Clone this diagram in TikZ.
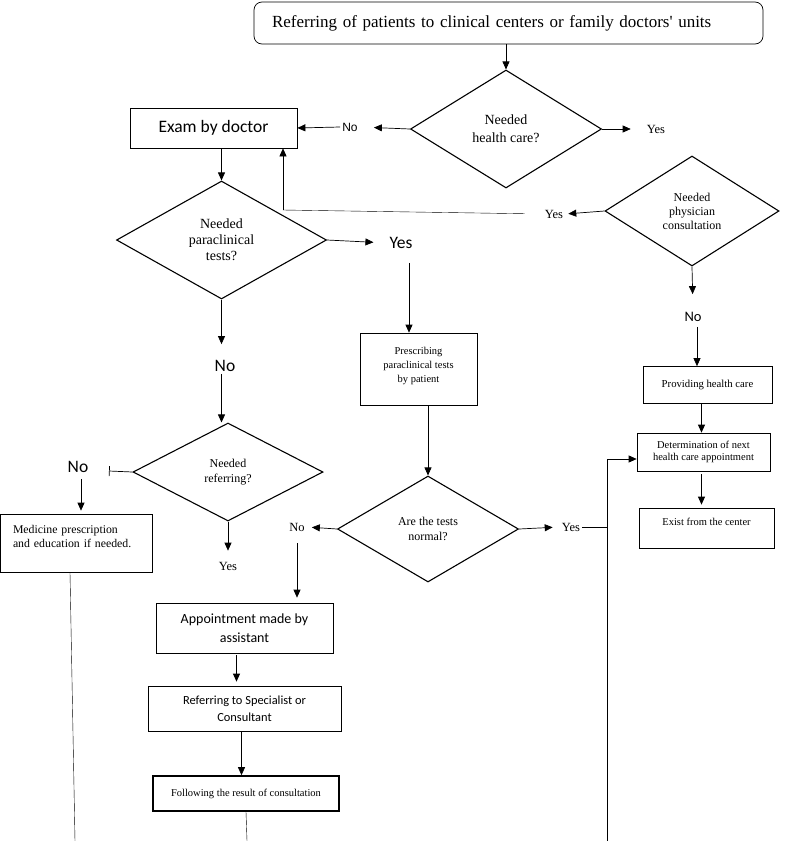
\documentclass[tikz,border=0pt]{standalone}
\usepackage{fontspec}
\setmainfont{Liberation Serif}
\newfontfamily\calfont{Carlito}
\newfontfamily\arialfont{Liberation Sans}
\usetikzlibrary{arrows.meta,shapes.geometric,calc}

\begin{document}
\begin{tikzpicture}[x=1pt, y=-1pt,
    box/.style={draw, line width=0.7pt, inner sep=2pt, align=center},
    dec/.style={draw, diamond, line width=1.1pt, inner sep=0pt, align=center},
    arr/.style={-{Triangle[length=8pt,width=7pt]}, line width=0.7pt},
    yn/.style={inner sep=2pt, font=\fontsize{12.5}{14}\selectfont},
    bigyn/.style={inner sep=2pt, font=\calfont\fontsize{17.5}{19}\selectfont}]

\useasboundingbox (0,0) rectangle (785,841);

% Start
\node[box, rounded corners=8pt, align=left, text width=473, inner xsep=18pt, minimum height=42,
      font=\fontsize{17}{19}\selectfont] (start) at (508.5,23)
      {Referring of patients to clinical centers or family doctors\textquotesingle{} units};

% First question
\node[dec, minimum width=191, minimum height=118,
      font=\fontsize{14}{18}\selectfont] (hc) at (506,129) {Needed\\health care?};
\node[inner sep=2pt, font=\arialfont\fontsize{12}{14}\selectfont] (no1) at (350,127) {No};
\node[yn] (yes1) at (656,129) {Yes};

\node[box, minimum width=167, minimum height=40,
      font=\calfont\fontsize{17.5}{20}\selectfont] (exam) at (213.5,128) {Exam by doctor};

\draw[arr] (hc.north |- start.south) -- (hc.north);
\draw[arr, shorten >=14pt] (hc.west) -- (no1.east);
\draw[arr] (no1.west) -- (exam.east);
\draw[arr, shorten >=14pt] (hc.east) -- (yes1.west);

% Paraclinical tests
\node[dec, minimum width=210, minimum height=118,
      font=\fontsize{14}{16}\selectfont] (para) at (221.5,240) {Needed\\paraclinical\\tests?};
\node[bigyn] (yes2) at (401,243) {Yes};
\node[bigyn] (no2) at (225,366) {No};

\draw[arr] (para.north |- exam.south) -- (para.north);
\draw[arr, shorten >=14pt] (para.east) -- (yes2.west);
\draw[arr, shorten >=14pt] (para.south) -- (para.south |- no2.north);

% Physician consultation
\node[dec, minimum width=174, minimum height=110,
      font=\fontsize{12}{14}\selectfont] (phys) at (692,211) {Needed\\physician\\consultation};
\node[yn] (yes3) at (554,214) {Yes};
\node[inner sep=2pt, font=\calfont\fontsize{14.5}{16}\selectfont] (no3) at (693,317) {No};
\coordinate (j1) at (283,210);

\draw[arr, shorten >=3pt] (phys.west) -- (yes3.east);
\draw[shorten <=18pt] (yes3.west) -- (j1);
\draw[arr] (j1) -- (j1 |- exam.south);
\draw[arr, shorten >=16pt] (phys.south) -- (no3.north);

% Health care branch
\node[box, minimum width=129, minimum height=37,
      font=\fontsize{10.7}{12}\selectfont] (care) at (707.5,385) {Providing health care};
\node[box, minimum width=133, minimum height=38,
      font=\fontsize{10.5}{12}\selectfont] (det) at (703.5,452) {Determination of next\\health care appointment};
\node[box, minimum width=135, minimum height=40,
      font=\fontsize{10.5}{12}\selectfont] (exit) at (706.5,528) {Exist from the center\\~};

\draw[arr, shorten <=3pt] ([xshift=4pt]no3.south) -- ([xshift=4pt]no3.south |- care.north);
\draw[arr] ([xshift=-6pt]care.south) -- ([xshift=-6pt]care.south |- det.north);
\draw[arr, shorten <=3pt, shorten >=3pt] ([xshift=-2pt]det.south) -- ([xshift=-2pt]det.south |- exit.north);

% Tests
\node[box, minimum width=117, minimum height=72,
      font=\fontsize{10.5}{14}\selectfont] (presc) at (418.5,369)
      {Prescribing\\paraclinical tests\\by patient\\[-6pt]~};
\node[dec, minimum width=181, minimum height=106,
      font=\fontsize{12}{15}\selectfont] (tests) at (428,529) {Are the tests\\normal?};
\node[yn] (yes4) at (571,527) {Yes};
\node[yn] (no4) at (297,527) {No};
\coordinate (j2) at (607,527);
\coordinate (j3) at (607,459);
\coordinate (bot2) at (607,841);

\draw[arr, shorten <=12pt] ([xshift=8pt]yes2.south) -- ([xshift=8pt]yes2.south |- presc.north);
\draw[arr] (tests.north |- presc.south) -- (tests.north);
\draw[arr, shorten >=7pt] (tests.east) -- (yes4.west);
\draw (yes4.east) -- (j2);
\draw (bot2) -- (j3);
\draw[arr] (j3) -- (j3 -| det.west);
\draw[arr, shorten >=5pt] (tests.west) -- (no4.east);

% Referring
\node[dec, minimum width=190, minimum height=98,
      font=\fontsize{12}{15}\selectfont] (refq) at (228,472) {Needed\\referring?};
\node[bigyn] (no5) at (78,467) {No};
\node[yn] (yes5) at (228,566) {Yes};
\coordinate (bar5) at (109,471);
\node[box, align=left, text width=126, inner xsep=13pt, minimum height=58,
      font=\fontsize{11.8}{14}\selectfont] (med) at (76,543)
      {Medicine prescription\\and education if needed.\\~};
\coordinate (bot1) at (75,841);

\draw[arr] (para.south |- no2.south) -- (para.south |- refq.north);
\draw[-{Bar[width=10pt]}, line width=0.7pt] (refq.west) -- (bar5);
\draw[arr, shorten <=4pt, shorten >=3pt] ([xshift=3pt]no5.south) -- ([xshift=3pt]no5.south |- med.north);
\draw[arr, shorten >=9pt] (refq.south) -- (yes5.north);
\draw ([xshift=-6pt]med.south) -- (bot1);

% Appointment chain
\node[box, minimum width=177, minimum height=50,
      font=\calfont\fontsize{14}{19}\selectfont] (appt) at (244.5,628) {Appointment made by\\assistant};
\node[box, minimum width=193, minimum height=45,
      font=\calfont\fontsize{12.4}{17}\selectfont] (referral) at (244.5,708.5) {Referring to Specialist or\\Consultant};
\node[box, line width=1.6pt, minimum width=186, minimum height=35,
      font=\fontsize{10.5}{12}\selectfont] (follow) at (246,793.5) {Following the result of consultation};
\coordinate (bot3) at (247,841);

\draw[arr, shorten <=10pt, shorten >=5pt] (no4.south) -- (no4.south |- appt.north);
\draw[arr, shorten <=2pt, shorten >=4pt] ([xshift=-8pt]appt.south) -- ([xshift=-8pt]appt.south |- referral.north);
\draw[arr] ([xshift=-3pt]referral.south) -- ([xshift=-3pt]referral.south |- follow.north);
\draw (follow.south) -- (bot3);

\end{tikzpicture}
\end{document}
